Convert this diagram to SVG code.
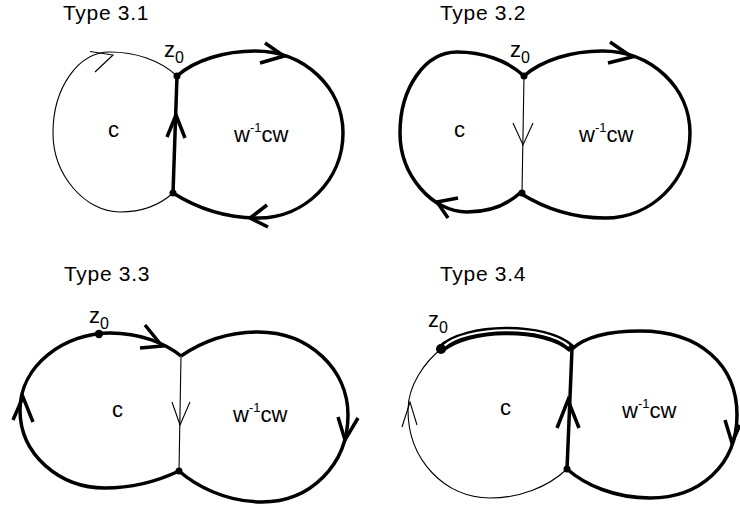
<svg xmlns="http://www.w3.org/2000/svg" width="740" height="507" viewBox="0 0 740 507">
<style>
.thick{fill:none;stroke:#000;stroke-width:3.5;stroke-linejoin:miter}
.thin{fill:none;stroke:#000;stroke-width:1.1;stroke-linejoin:miter}
.dot{fill:#000}
text{font-family:"Liberation Sans",Arial,sans-serif;fill:#000}
.title{font-size:21px;letter-spacing:0.7px}
.lab{font-size:22px}
.sup{font-size:13px}
.z{font-size:22px}
.sub{font-size:16px}
</style>
<rect width="740" height="507" fill="#fff"/>

<!-- Type 3.1 -->
<g id="type31">
  <text class="title" x="63" y="19.5">Type 3.1</text>
  <g id="t31-loops">
    <path class="thin" d="M177,76 C160,60 135,52 110,52 C78,52 53,88 53,133 C53,175 85,212 120,212 C145,212 162,203 173,193"/>
    <path class="thick" d="M177,76 C195,60 225,51 255,51 C305,51 343,88 343,133 C343,180 305,218 258,218 C220,218 192,205 173,193"/>
    <path class="thick" d="M177,76 L173,193"/>
  </g>
  <g id="t31-arrows">
    <path class="thin" d="M90,51.5 L113,55 L95,72"/>
    <path class="thick" d="M265,43 L284,56 L260,63"/>
    <path class="thick" d="M267,205 L250,218 L268,227"/>
    <path class="thick" d="M167,137 L176,115 L185,138"/>
  </g>
  <circle class="dot" cx="177" cy="76" r="3.5"/>
  <circle class="dot" cx="173" cy="193" r="3.5"/>
  <text class="z" x="164" y="57">z<tspan class="sub" dy="6">0</tspan></text>
  <text class="lab" x="108" y="137">c</text>
  <text class="lab" x="234" y="142">w<tspan class="sup" dy="-10">-1</tspan><tspan dy="10">cw</tspan></text>
</g>

<!-- Type 3.2 -->
<g id="type32">
  <text class="title" x="440" y="19.5">Type 3.2</text>
  <g id="t32-loops" transform="translate(347,0)">
    <path class="thick" d="M177,76 C160,60 135,52 110,52 C78,52 53,88 53,133 C53,175 85,212 120,212 C145,212 162,203 173,193"/>
    <path class="thick" d="M177,76 C195,60 225,51 255,51 C305,51 343,88 343,133 C343,180 305,218 258,218 C220,218 192,205 173,193"/>
    <path class="thin" d="M177,76 L175,193"/>
  </g>
  <g id="t32-arrows">
    <path class="thick" d="M458,198 L437,202 L448,218"/>
    <path class="thick" d="M610,42 L632,57 L608,63"/>
    <path class="thin" d="M513,123 L523,145 L533,123"/>
  </g>
  <circle class="dot" cx="524" cy="76" r="3.5"/>
  <circle class="dot" cx="522" cy="193" r="3.5"/>
  <text class="z" x="510" y="57">z<tspan class="sub" dy="6">0</tspan></text>
  <text class="lab" x="454" y="137">c</text>
  <text class="lab" x="579" y="142">w<tspan class="sup" dy="-10">-1</tspan><tspan dy="10">cw</tspan></text>
</g>

<!-- Type 3.3 -->
<g id="type33">
  <text class="title" x="64" y="281">Type 3.3</text>
  <g id="t33-loops">
    <path class="thick" d="M181,356 C165,343 140,333 110,333 C65,333 20,365 20,410 C20,455 60,488 105,488 C135,488 160,480 179,471"/>
    <path class="thick" d="M181,356 C200,343 225,332 258,332 C310,332 348,370 348,415 C348,465 310,502 262,502 C225,502 195,485 179,471"/>
    <path class="thin" d="M181,356 L179,471"/>
  </g>
  <g id="t33-arrows">
    <path class="thick" d="M145,325 L162,346 L140,348"/>
    <path class="thick" d="M13,420 L23,397 L33,422"/>
    <path class="thick" d="M338,417 L345,440 L358,418"/>
    <path class="thin" d="M172,402 L180,425 L190,402"/>
  </g>
  <circle class="dot" cx="99" cy="334" r="4.2"/>
  <circle class="dot" cx="179" cy="471" r="3.5"/>
  <text class="z" x="89" y="323">z<tspan class="sub" dy="6">0</tspan></text>
  <text class="lab" x="112" y="417">c</text>
  <text class="lab" x="233" y="422">w<tspan class="sup" dy="-10">-1</tspan><tspan dy="10">cw</tspan></text>
</g>

<!-- Type 3.4 -->
<g id="type34">
  <text class="title" x="440" y="281">Type 3.4</text>
  <g id="t34-loops">
    <path class="thin" d="M441,349 C425,362 408,385 408,410 C408,460 445,498 490,498 C520,498 548,487 567,469"/>
    <path class="thick" d="M572,349 C585,337 610,331 640,331 C700,331 737,365 737,415 C737,465 700,498 650,498 C615,498 585,485 567,469"/>
    <path class="thick" d="M572,349 L567,469"/>
    <path fill="none" stroke="#000" stroke-width="8.5" d="M441,349 C465,326 545,324 572,349"/>
    <path fill="none" stroke="#fff" stroke-width="2" d="M444,346 C466,326 545,324 569,346"/>
  </g>
  <g id="t34-arrows">
    <path class="thin" d="M402,427 L410,402 L417,425"/>
    <path class="thick" d="M557,428 L568,400 L579,428"/>
    <path class="thick" d="M725,420 L732,443 L740,425"/>
  </g>
  <circle class="dot" cx="441" cy="349" r="5"/>
  <circle class="dot" cx="567" cy="469" r="3.5"/>
  <text class="z" x="428" y="327">z<tspan class="sub" dy="6">0</tspan></text>
  <text class="lab" x="500" y="415">c</text>
  <text class="lab" x="622" y="418">w<tspan class="sup" dy="-10">-1</tspan><tspan dy="10">cw</tspan></text>
</g>
</svg>
